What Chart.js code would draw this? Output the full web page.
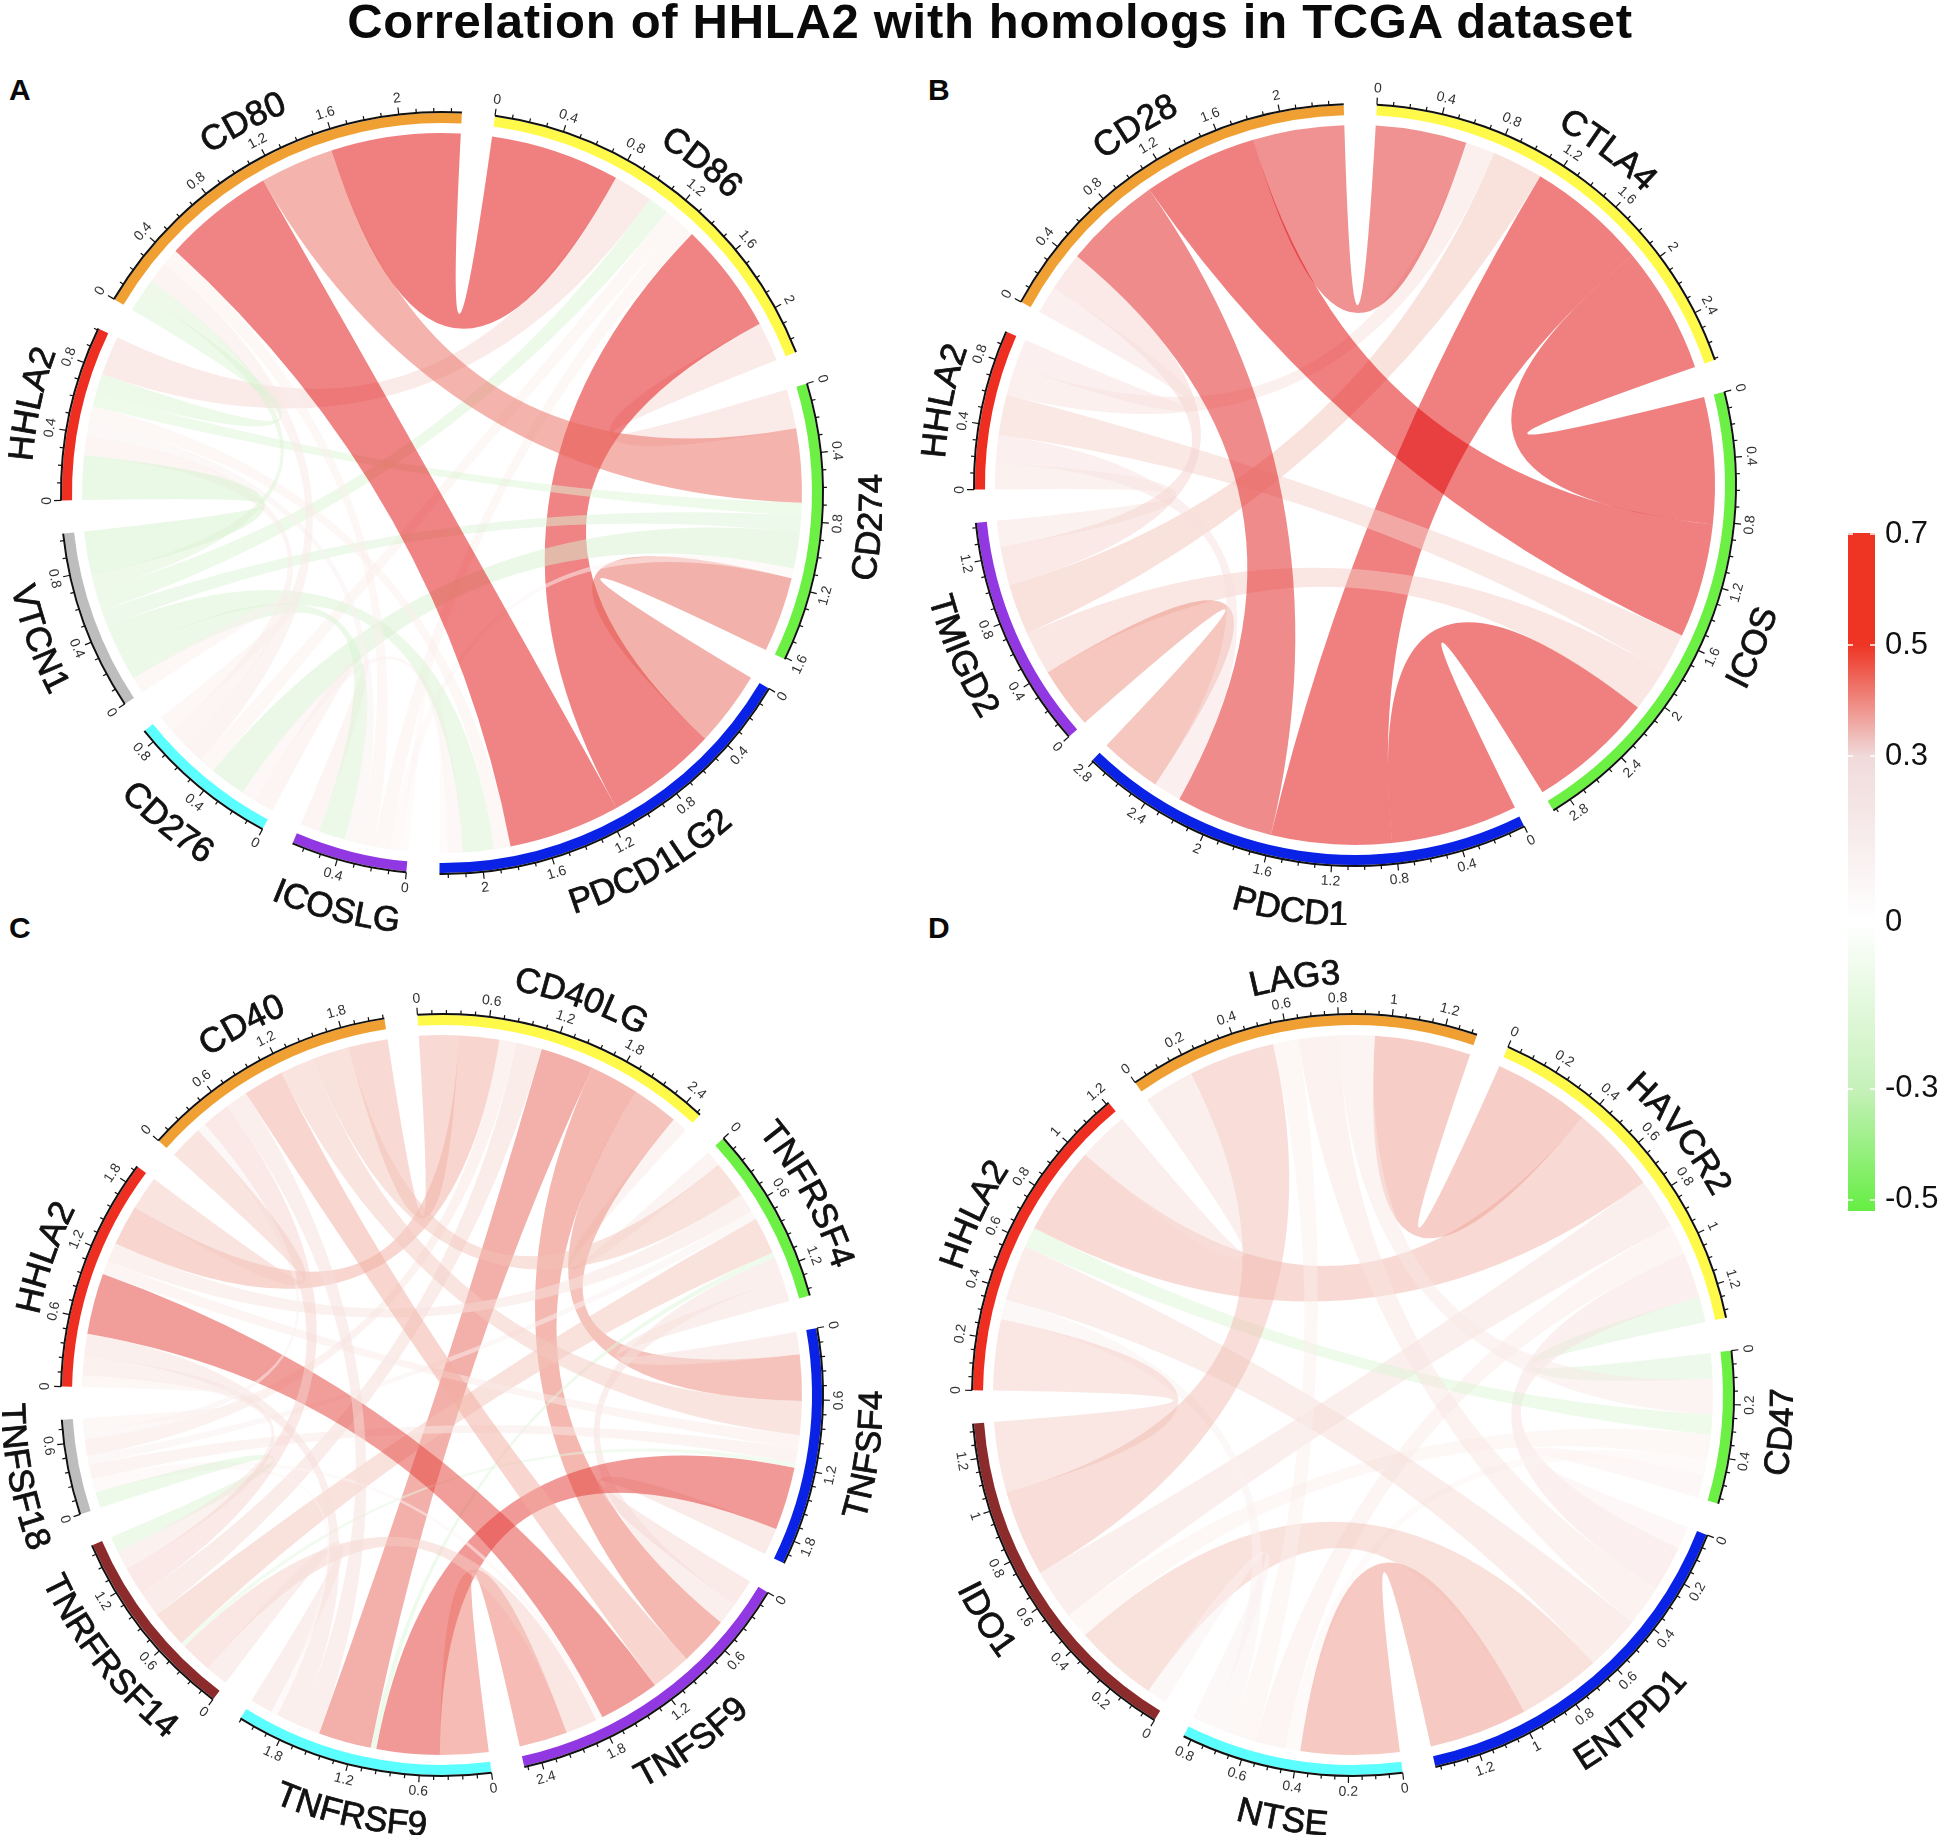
<!DOCTYPE html>
<html>
<head>
<meta charset="utf-8">
<title>Correlation of HHLA2 with homologs in TCGA dataset</title>
<script src="https://cdn.jsdelivr.net/npm/chart.js@4"></script>
<style>
  html, body { margin: 0; padding: 0; background: #fff; }
  body { position: relative; width: 1950px; height: 1846px; overflow: hidden; font-family: "Liberation Sans", Arial, sans-serif; }
  canvas { position: absolute; }
  .title { position: absolute; left: 0; top: -7px; width: 1980px; text-align: center; font-size: 49px; font-weight: bold; color: #0a0a0a; letter-spacing: 0.7px; white-space: nowrap; }
  .panel { position: absolute; font-size: 30px; font-weight: bold; color: #0a0a0a; }
</style>
</head>
<body>
<div class="title">Correlation of HHLA2 with homologs in TCGA dataset</div>
<div class="panel" style="left:9px;top:73px">A</div>
<div class="panel" style="left:928px;top:73px">B</div>
<div class="panel" style="left:9px;top:911px">C</div>
<div class="panel" style="left:928px;top:911px">D</div>
<canvas id="chartA" width="880" height="880" style="left:2px;top:53px"></canvas>
<canvas id="chartB" width="880" height="880" style="left:915px;top:45px"></canvas>
<canvas id="chartC" width="880" height="880" style="left:2px;top:955px"></canvas>
<canvas id="chartD" width="880" height="880" style="left:913px;top:955px"></canvas>
<canvas id="colorBar" width="102" height="740" style="left:1848px;top:500px"></canvas>
<script>
// ring colours
const yellow = '#FFF94A', green = '#6CF044', blue = '#0A22E6', purple = '#9238E2';
const cyan = '#5CFFFF', grey = '#BDBDBD', red = '#EE2E20', orange = '#F0A033', brown = '#8C2B2B';

// Panel A: sectors clockwise, upper triangle of r values
const aSectors = ['CD86', 'CD274', 'PDCD1LG2', 'ICOSLG', 'CD276', 'VTCN1', 'HHLA2', 'CD80'];
const aColors = [yellow, green, blue, purple, cyan, grey, red, orange];
const aCorr = [
  [0.24, 0.68, 0.10, 0.10, -0.13, 0.24, 0.79],
  [0.46, 0.06, -0.22, -0.10, -0.08, 0.45],
  [0.05, 0.09, -0.19, 0.10, 0.68],
  [0.12, -0.16, 0.08, 0.10],
  [0.10, 0.12, 0.13],
  [-0.27, -0.09],
  [-0.12],
];

// Panel B
const bSectors = ['CTLA4', 'ICOS', 'PDCD1', 'TMIGD2', 'HHLA2', 'CD28'];
const bColors = [yellow, green, blue, purple, red, orange];
const bCorr = [
  [0.82, 0.78, 0.33, 0.19, 0.59],
  [0.82, 0.28, 0.26, 0.74],
  [0.40, 0.18, 0.63],
  [0.17, 0.25],
  [0.18],
];

// Panel C
const cSectors = ['CD40LG', 'TNFRSF4', 'TNFSF4', 'TNFSF9', 'TNFRSF9', 'TNRFRSF14', 'TNFSF18', 'HHLA2', 'CD40'];
const cColors = [yellow, green, blue, purple, cyan, brown, grey, red, orange];
const cCorr = [
  [0.14, 0.41, 0.44, 0.47, 0.23, 0.15, 0.36, 0.35],
  [0.20, 0.20, -0.05, 0.33, 0.08, 0.17, 0.33],
  [0.24, 0.56, -0.04, 0.13, 0.12, 0.30],
  [0.43, 0.28, 0.06, 0.54, 0.36],
  [0.20, 0.06, 0.20, 0.20],
  [-0.14, 0.17, 0.25],
  [0.10, 0.08],
  [0.30],
];

// Panel D
const dSectors = ['HAVCR2', 'CD47', 'ENTPD1', 'NTSE', 'IDO1', 'HHLA2', 'LAG3'];
const dColors = [yellow, green, blue, cyan, brown, red, orange];
const dCorr = [
  [-0.10, 0.18, 0.12, 0.20, 0.35, 0.38],
  [0.09, 0.06, 0.10, -0.08, 0.14],
  [0.39, 0.33, 0.22, 0.16],
  [0.08, 0.08, 0.10],
  [0.28, 0.34],
  [0.20],
];

// colour bar
const barRange = [-0.52, 0.702];
const barTicks = [0.7, 0.5, 0.3, 0, -0.3, -0.5];
const barStopValues = [0.702, 0.5, 0.3, 0, -0.3, -0.52];
const barStopColors = ['#EE3524', '#EE3524', '#F0DADA', '#FFFFFF', '#C6F1BA', '#66EE44'];

// link colours (drawn at 50% alpha)
const linkStopValues = [-0.5, -0.3, -0.05, 0, 0.2, 0.33, 0.39, 0.45, 0.6, 0.7];
const linkStopColors = [[170, 235, 150], [213, 241, 205], [222, 245, 215], [255, 255, 255], [247, 223, 219], [243, 195, 185], [238, 150, 135], [233, 105, 91], [225, 33, 33], [225, 1, 1]];

const FONT = '"Liberation Sans", Arial, sans-serif';
const GAP_DEG = 5;
const R_OUT = 380, R_IN = 370, R_LINK = 360;

function linkColor(r) {
  const v = Math.max(-0.5, Math.min(0.7, r));
  for (let i = 0; i < linkStopValues.length - 1; i++) {
    if (v <= linkStopValues[i + 1]) {
      const t = (v - linkStopValues[i]) / (linkStopValues[i + 1] - linkStopValues[i]);
      const c = linkStopColors[i].map((x, k) => Math.round(x + (linkStopColors[i + 1][k] - x) * t));
      return `rgba(${c[0]},${c[1]},${c[2]},0.5)`;
    }
  }
  return 'rgba(225,1,1,0.5)';
}

function tickText(v) {
  return String(Math.round(v * 100) / 100);
}

function makeChord(id, sectors, colors, corr, startDeg, labelStep, minorCount, orderFix) {
  const n = sectors.length;

  // full symmetric lookup from the upper triangle
  const r = sectors.map(() => new Array(n).fill(0));
  corr.forEach((row, i) => row.forEach((v, k) => { r[i][i + 1 + k] = v; r[i + 1 + k][i] = v; }));

  const totals = r.map(row => row.reduce((s, v) => s + Math.abs(v), 0));
  const sumAll = totals.reduce((s, v) => s + v, 0);
  const gap = GAP_DEG * sumAll / (360 - GAP_DEG * n);

  // each sector lays its links out going back round the circle
  const ends = sectors.map(() => ({}));
  for (let i = 0; i < n; i++) {
    let order = [];
    for (let k = 1; k < n; k++) order.push((i - k + n) % n);
    if (orderFix && orderFix[i]) order = orderFix[i];
    let pos = 0;
    order.forEach(j => {
      ends[i][j] = [pos, pos + Math.abs(r[i][j])];
      pos += Math.abs(r[i][j]);
    });
  }

  const ringData = [], ringColors = [], ringLabels = [];
  sectors.forEach((s, i) => {
    ringData.push(totals[i], gap);
    ringColors.push(colors[i], 'rgba(0,0,0,0)');
    ringLabels.push(s, '');
  });

  const chordPlugin = {
    id: 'chordLinks',
    afterDatasetsDraw(chart) {
      const ctx = chart.ctx;
      const arcs = chart.getDatasetMeta(0).data;
      const cx = arcs[0].x, cy = arcs[0].y;
      const toAngle = (i, v) => {
        const a = arcs[i * 2];
        return a.startAngle + (a.endAngle - a.startAngle) * v / totals[i];
      };

      // links
      for (let i = 0; i < n; i++) {
        for (let j = i + 1; j < n; j++) {
          if (!r[i][j]) continue;
          const a0 = toAngle(i, ends[i][j][0]), a1 = toAngle(i, ends[i][j][1]);
          const b0 = toAngle(j, ends[j][i][0]), b1 = toAngle(j, ends[j][i][1]);
          ctx.beginPath();
          ctx.arc(cx, cy, R_LINK, a0, a1);
          ctx.quadraticCurveTo(cx, cy, cx + R_LINK * Math.cos(b0), cy + R_LINK * Math.sin(b0));
          ctx.arc(cx, cy, R_LINK, b0, b1);
          ctx.quadraticCurveTo(cx, cy, cx + R_LINK * Math.cos(a0), cy + R_LINK * Math.sin(a0));
          ctx.closePath();
          ctx.fillStyle = linkColor(r[i][j]);
          ctx.fill();
        }
      }

      // axis line, ticks, tick labels
      const minorStep = labelStep / minorCount;
      for (let i = 0; i < n; i++) {
        const start = toAngle(i, 0), end = toAngle(i, totals[i]);
        ctx.beginPath();
        ctx.arc(cx, cy, R_OUT + 1, start, end);
        ctx.strokeStyle = '#111';
        ctx.lineWidth = 2;
        ctx.stroke();
        const count = Math.floor(totals[i] / minorStep + 1e-6);
        for (let k = 0; k <= count; k++) {
          const v = k * minorStep;
          const a = toAngle(i, v);
          const major = k % minorCount === 0;
          const len = major ? 7 : 4;
          ctx.beginPath();
          ctx.moveTo(cx + (R_OUT + 1) * Math.cos(a), cy + (R_OUT + 1) * Math.sin(a));
          ctx.lineTo(cx + (R_OUT + 1 + len) * Math.cos(a), cy + (R_OUT + 1 + len) * Math.sin(a));
          ctx.lineWidth = 1.2;
          ctx.stroke();
          if (major) {
            ctx.save();
            ctx.translate(cx + (R_OUT + 17) * Math.cos(a), cy + (R_OUT + 17) * Math.sin(a));
            ctx.rotate(Math.sin(a) < 0 ? a + Math.PI / 2 : a - Math.PI / 2);
            ctx.font = '14px ' + FONT;
            ctx.fillStyle = '#333';
            ctx.textAlign = 'center';
            ctx.textBaseline = 'middle';
            ctx.fillText(tickText(v), 0, 0);
            ctx.restore();
          }
        }
      }

      // sector names, bent round the circle one letter at a time
      ctx.font = '35px ' + FONT;
      ctx.fillStyle = '#111';
      ctx.strokeStyle = '#111';
      ctx.lineWidth = 0.8;
      ctx.textBaseline = 'alphabetic';
      ctx.textAlign = 'center';
      for (let i = 0; i < n; i++) {
        const mid = toAngle(i, totals[i] / 2);
        const top = Math.sin(mid) < 0;
        const rad = top ? 411 : 441;
        const dir = top ? 1 : -1;
        const name = sectors[i];
        let along = -ctx.measureText(name).width / 2;
        for (const ch of name) {
          const w = ctx.measureText(ch).width;
          const a = mid + dir * (along + w / 2) / rad;
          ctx.save();
          ctx.translate(cx + rad * Math.cos(a), cy + rad * Math.sin(a));
          ctx.rotate(top ? a + Math.PI / 2 : a - Math.PI / 2);
          ctx.fillText(ch, 0, 0);
          ctx.strokeText(ch, 0, 0);
          ctx.restore();
          along += w;
        }
      }
    },
  };

  return new Chart(document.getElementById(id), {
    type: 'doughnut',
    data: {
      labels: ringLabels,
      datasets: [{ data: ringData, backgroundColor: ringColors, borderWidth: 0 }],
    },
    options: {
      responsive: false,
      devicePixelRatio: 1,
      animation: false,
      events: [],
      rotation: startDeg,
      cutout: R_IN,
      layout: { padding: 60 },
      plugins: { legend: { display: false }, tooltip: { enabled: false } },
    },
    plugins: [chordPlugin],
  });
}

makeChord('chartA', aSectors, aColors, aCorr, 8, 0.4, 4, { 6: [5, 4, 3, 2, 1, 7, 0] });
makeChord('chartB', bSectors, bColors, bCorr, 3.3, 0.4, 4);
makeChord('chartC', cSectors, cColors, cCorr, -3.7, 0.6, 5);
makeChord('chartD', dSectors, dColors, dCorr, 24, 0.2, 4);

// colour bar: one floating bar filled from the y scale
const barEdgeTicks = {
  id: 'barEdgeTicks',
  afterDatasetsDraw(chart) {
    const { ctx, chartArea, scales } = chart;
    ctx.strokeStyle = '#fff';
    ctx.lineWidth = 1.5;
    barTicks.forEach(v => {
      const y = scales.y.getPixelForValue(v);
      ctx.beginPath();
      ctx.moveTo(chartArea.left, y);
      ctx.lineTo(chartArea.left + 5, y);
      ctx.moveTo(chartArea.right - 5, y);
      ctx.lineTo(chartArea.right, y);
      ctx.stroke();
    });
  },
};

new Chart(document.getElementById('colorBar'), {
  type: 'bar',
  data: {
    labels: [''],
    datasets: [{
      data: [barRange],
      barPercentage: 1,
      categoryPercentage: 1,
      borderWidth: 0,
      backgroundColor(c) {
        const { chartArea, scales, ctx } = c.chart;
        if (!chartArea) return '#fff';
        const g = ctx.createLinearGradient(0, chartArea.top, 0, chartArea.bottom);
        barStopValues.forEach((v, i) => {
          g.addColorStop((scales.y.getPixelForValue(v) - chartArea.top) / chartArea.height, barStopColors[i]);
        });
        return g;
      },
    }],
  },
  options: {
    responsive: false,
    devicePixelRatio: 1,
    animation: false,
    events: [],
    layout: { padding: { top: 33, bottom: 29 } },
    plugins: { legend: { display: false }, tooltip: { enabled: false } },
    scales: {
      x: { display: false },
      y: {
        position: 'right',
        min: barRange[0],
        max: barRange[1],
        grid: { display: false },
        border: { display: false },
        afterBuildTicks(axis) { axis.ticks = barTicks.map(v => ({ value: v })); },
        afterFit(axis) { axis.width = 75; },
        ticks: {
          autoSkip: false,
          padding: 2,
          crossAlign: 'near',
          color: '#111',
          font: { family: 'Liberation Sans', size: 31 },
          callback: v => String(v),
        },
      },
    },
  },
  plugins: [barEdgeTicks],
});
</script>
</body>
</html>
